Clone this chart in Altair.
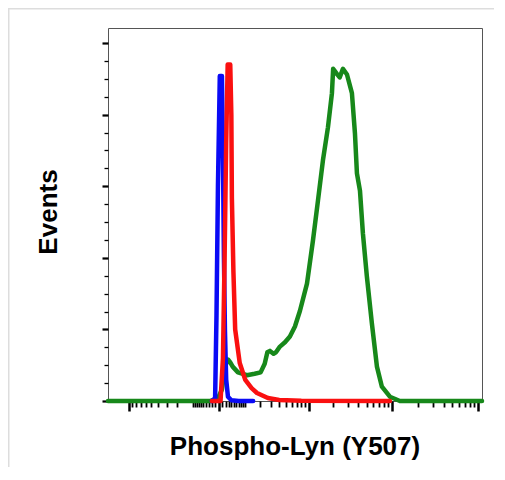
import altair as alt
import pandas as pd

# ---- data ----
blue_x = [-20, -10, -6, -2, 3, 9, 12, 15, 18, 22, 28, 40, 70, 150]
blue_y = [0, 2, 60, 150, 227, 227, 170, 100, 50, 15, 3, 0.5, 0, 0]

red_x = [-20, 5, 12, 17, 22, 27, 36, 40, 42, 48, 55, 75, 103, 140, 177, 270, 400, 800, 9400]
red_y = [0, 0, 30, 100, 180, 235, 235, 200, 142, 90, 50, 26.5, 14.7, 9, 5.6, 2.1, 0.7, 0.2, 0]

green_x = [-1800, -25, -10, 0, 9, 18, 28, 36, 45, 67, 112, 160, 205, 240, 265, 291, 330, 359,
           410, 483, 565, 660, 769, 947, 1127, 1303, 1500, 1728, 1933, 2000, 2120, 2250, 2400,
           2624, 2934, 3360, 3650, 3854, 4185, 4535, 5050, 5790, 6630, 7580, 9400, 12290, 110000]
green_y = [0, 0, 1, 3, 8, 24, 29, 27, 24, 20, 18, 19, 20, 26, 34, 35, 33, 34, 38, 41,
           45, 52, 63, 82, 112, 140, 168, 191, 215, 232, 230, 228, 226, 232, 228, 215, 187, 159, 147, 117,
           87, 54, 24, 10, 3, 0, 0]

x_major_ticks = [-1000, 0, 1000, 10000, 100000]
x_minor_ticks = ([-900, -800, -700, -600, -500, -400, -300, -200, -100]
                 + [-90, -80, -70, -60, -50, -40, -30, -20, -10]
                 + [10, 20, 30, 40, 50, 60, 70, 80, 90]
                 + [100, 200, 300, 400, 500, 600, 700, 800, 900]
                 + [2000, 3000, 4000, 5000, 6000, 7000, 8000, 9000]
                 + [20000, 30000, 40000, 50000, 60000, 70000, 80000, 90000])
y_major_ticks = [0, 50, 100, 150, 200, 250]
y_minor_ticks = [12.5, 25, 37.5, 62.5, 75, 87.5, 112.5, 125, 137.5,
                 162.5, 175, 187.5, 212.5, 225, 237.5]

x_title = "Phospho-Lyn (Y507)"
y_title = "Events"

W, H = 374, 373
PAD = {"left": 100, "top": 20, "right": 12, "bottom": 66}

major_test_x = "indexof(" + str(x_major_ticks) + ", datum.value) >= 0"

x_enc = alt.X(
    "x:Q",
    scale=alt.Scale(type="symlog", constant=100, domain=[-1800, 110000], nice=False, zero=False),
    axis=alt.Axis(
        values=sorted(x_major_ticks + x_minor_ticks),
        labels=False, grid=False, domain=False,
        tickColor="black",
        tickSize={"condition": {"test": major_test_x, "value": 10}, "value": 6},
        tickWidth={"condition": {"test": major_test_x, "value": 2.5}, "value": 1.8},
        title=x_title, titleX=186.5, titleY=53, titleAlign="center",
        titleBaseline="alphabetic", titleFont="Liberation Sans", titleFontSize=26,
        titleFontWeight="bold", titleColor="black",
    ),
)
y_enc = alt.Y(
    "y:Q",
    scale=alt.Scale(domain=[0, 260.5], nice=False, zero=True),
    axis=alt.Axis(
        values=sorted(y_major_ticks + y_minor_ticks),
        labels=False, grid=False, domain=False,
        tickColor="black",
        tickSize={"condition": {"test": "datum.value % 50 == 0", "value": 6}, "value": 4},
        tickWidth={"condition": {"test": "datum.value % 50 == 0", "value": 2.2}, "value": 1.3},
        title=y_title, titleAngle=270, titleX=-52, titleY=183.5, titleAlign="center",
        titleBaseline="alphabetic", titleFont="Liberation Sans", titleFontSize=26,
        titleFontWeight="bold", titleColor="black",
    ),
)


def series(xs, ys):
    return pd.DataFrame({"x": xs, "y": ys})


def line(xs, ys, color):
    return alt.Chart(series(xs, ys)).mark_line(
        color=color, strokeWidth=4.5, strokeJoin="round", strokeCap="round"
    ).encode(x=x_enc, y=y_enc)


green = line(green_x, green_y, "#17881a")
blue = line(blue_x, blue_y, "#0a0af5")
red = line(red_x, red_y, "#fa1010")

one = alt.Data(values=[{"k": 1}])
border_v = alt.Chart(one).mark_rule(color="#dddddd", strokeWidth=3).encode(
    x=alt.value(-100), y=alt.value(-20), y2=alt.value(H + PAD["bottom"])
)
border_h = alt.Chart(one).mark_rule(color="#dddddd", strokeWidth=3).encode(
    x=alt.value(-100), x2=alt.value(W + PAD["right"]), y=alt.value(-20)
)

chart = alt.layer(border_v, border_h, green, blue, red).properties(
    width=W, height=H,
    padding=PAD,
    autosize=alt.AutoSizeParams(type="none"),
    background="white",
).configure_view(stroke="#555555", strokeWidth=1)

chart.save("out.html", embed_options={"renderer": "svg", "actions": False})
